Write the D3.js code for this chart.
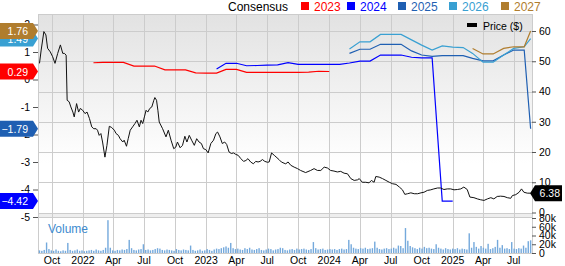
<!DOCTYPE html>
<html>
<head>
<meta charset="utf-8">
<script src="https://cdn.jsdelivr.net/npm/d3@7"></script>
<style>
  body { margin: 0; background: #fff; }
  svg text { font-family: "Liberation Sans", Arial, sans-serif; }
</style>
</head>
<body>
<div id="container"></div>
<script>

// consensus EPS estimates by fiscal year, [month, eps]
var eps2023 = [
  ["2022-02-01",0.61],["2022-03-01",0.62],["2022-04-01",0.62],["2022-05-01",0.62],["2022-06-01",0.49],
  ["2022-07-01",0.49],["2022-08-01",0.49],["2022-09-01",0.35],["2022-10-01",0.35],["2022-11-01",0.35],
  ["2022-12-01",0.24],["2023-01-01",0.23],["2023-02-01",0.23],["2023-03-01",0.37],["2023-04-01",0.37],
  ["2023-05-01",0.26],["2023-06-01",0.26],["2023-07-01",0.26],["2023-08-01",0.26],["2023-09-01",0.26],
  ["2023-10-01",0.26],["2023-11-01",0.27],["2023-12-01",0.30],["2024-01-01",0.29]
];
var eps2024 = [
  ["2023-02-01",0.38],["2023-03-01",0.59],["2023-04-01",0.59],["2023-05-01",0.50],["2023-06-01",0.51],
  ["2023-07-01",0.52],["2023-08-01",0.53],["2023-09-01",0.61],["2023-10-01",0.55],["2023-11-01",0.55],
  ["2023-12-01",0.55],["2024-01-01",0.55],["2024-02-01",0.55],["2024-03-01",0.60],["2024-04-01",0.67],
  ["2024-05-01",0.67],["2024-06-01",0.89],["2024-07-01",0.89],["2024-08-01",0.89],["2024-09-01",0.81],
  ["2024-10-01",0.79],["2024-11-01",0.79],["2024-12-01",-4.42],["2025-01-01",-4.42]
];
var eps2025 = [
  ["2024-03-01",0.95],["2024-04-01",1.10],["2024-05-01",1.10],["2024-06-01",1.28],["2024-07-01",1.28],
  ["2024-08-01",1.28],["2024-09-01",1.04],["2024-10-01",0.89],["2024-11-01",0.84],["2024-12-01",0.87],
  ["2025-01-01",0.87],["2025-02-01",0.87],["2025-03-01",0.77],["2025-04-01",0.68],["2025-05-01",0.68],
  ["2025-06-01",0.89],["2025-07-01",1.07],["2025-08-01",1.07],["2025-08-20",-1.79]
];
var eps2026 = [
  ["2024-03-01",1.11],["2024-04-01",1.37],["2024-05-01",1.37],["2024-06-01",1.64],["2024-07-01",1.64],
  ["2024-08-01",1.64],["2024-09-01",1.44],["2024-10-01",1.25],["2024-11-01",1.07],["2024-12-01",1.22],
  ["2025-01-01",1.18],["2025-02-01",1.16],["2025-03-01",0.95],["2025-04-01",0.63],["2025-05-01",0.63],
  ["2025-06-01",0.89],["2025-07-01",1.13],["2025-08-01",1.19],["2025-08-20",1.49]
];
var eps2027 = [
  ["2025-03-01",1.13],["2025-04-01",0.93],["2025-05-01",0.93],["2025-06-01",1.13],["2025-07-01",1.19],
  ["2025-08-01",1.19],["2025-08-20",1.76]
];

var years = ["2023","2024","2025","2026","2027"];
var yearColors = ["#ff0000","#0000ff","#1f5fb2","#39a0d2","#b07d2e"];

// share price ($)
var price = [
  ["2021-08-25",49.3],["2021-08-30",53.7],["2021-09-07",59.8],["2021-09-13",58.7],["2021-09-18",54.3],
  ["2021-09-26",53.1],["2021-10-03",51.5],["2021-10-10",49.3],["2021-10-18",52.6],["2021-10-26",55.4],
  ["2021-11-02",52.6],["2021-11-07",52.6],["2021-11-12",52.0],["2021-11-15",37.1],["2021-11-21",36.6],
  ["2021-11-26",34.9],["2021-12-02",33.2],["2021-12-06",31.6],["2021-12-13",36.0],["2021-12-19",33.2],
  ["2021-12-24",34.4],["2021-12-31",33.8],["2022-01-07",32.7],["2022-01-13",33.2],["2022-01-20",31.1],
  ["2022-01-27",28.3],["2022-02-02",27.7],["2022-02-09",27.7],["2022-02-13",27.2],["2022-02-18",25.5],
  ["2022-02-23",26.1],["2022-02-28",23.3],["2022-03-07",18.3],["2022-03-13",22.2],["2022-03-20",28.5],
  ["2022-03-27",28.1],["2022-04-04",27.2],["2022-04-09",26.1],["2022-04-16",25.5],["2022-04-21",24.4],
  ["2022-04-29",23.3],["2022-05-03",23.9],["2022-05-10",21.9],["2022-05-15",24.4],["2022-05-21",27.2],
  ["2022-05-28",28.3],["2022-06-04",29.4],["2022-06-10",30.5],["2022-06-17",28.3],["2022-06-22",30.5],
  ["2022-06-27",29.4],["2022-07-02",31.6],["2022-07-07",33.8],["2022-07-12",33.2],["2022-07-18",34.4],
  ["2022-07-24",34.9],["2022-07-30",37.1],["2022-08-02",38.0],["2022-08-07",37.1],["2022-08-11",33.8],
  ["2022-08-15",29.9],["2022-08-25",27.7],["2022-09-04",25.0],["2022-09-11",27.2],["2022-09-19",23.9],
  ["2022-09-27",21.1],["2022-10-03",21.6],["2022-10-08",23.3],["2022-10-16",21.4],["2022-10-23",22.2],
  ["2022-10-30",25.2],["2022-11-05",23.3],["2022-11-12",25.5],["2022-11-19",23.9],["2022-11-27",22.2],
  ["2022-12-04",24.4],["2022-12-11",23.3],["2022-12-18",22.8],["2022-12-24",21.1],["2022-12-31",20.8],
  ["2023-01-07",19.7],["2023-01-15",22.8],["2023-01-23",23.9],["2023-01-30",26.1],["2023-02-04",26.6],
  ["2023-02-11",25.0],["2023-02-18",22.8],["2023-02-25",23.3],["2023-03-03",22.5],["2023-03-10",20.0],
  ["2023-03-17",19.5],["2023-03-23",19.7],["2023-03-30",19.2],["2023-04-06",18.9],["2023-04-14",17.8],
  ["2023-04-22",16.9],["2023-04-29",17.2],["2023-05-05",17.8],["2023-05-13",16.7],["2023-05-21",16.1],
  ["2023-05-28",16.9],["2023-06-04",16.7],["2023-06-10",16.9],["2023-06-17",17.5],["2023-06-24",16.9],
  ["2023-07-02",16.6],["2023-07-07",16.7],["2023-07-14",19.7],["2023-07-22",18.9],["2023-07-30",18.1],
  ["2023-08-05",17.5],["2023-08-12",16.7],["2023-08-20",16.3],["2023-08-25",16.1],["2023-09-01",16.7],
  ["2023-09-09",15.6],["2023-09-19",15.0],["2023-09-29",14.5],["2023-10-08",13.9],["2023-10-23",13.2],
  ["2023-11-07",13.9],["2023-11-17",14.5],["2023-11-27",13.9],["2023-12-07",13.9],["2023-12-17",15.0],
  ["2023-12-27",14.7],["2024-01-05",13.9],["2024-01-15",13.7],["2024-01-25",13.4],["2024-02-04",13.6],
  ["2024-02-14",13.0],["2024-02-24",12.8],["2024-03-05",11.2],["2024-03-15",10.6],["2024-03-25",10.8],
  ["2024-03-30",11.2],["2024-04-08",10.0],["2024-04-18",10.0],["2024-04-28",9.8],["2024-05-05",10.6],
  ["2024-05-13",10.0],["2024-05-18",11.9],["2024-05-28",11.7],["2024-06-07",11.2],["2024-06-17",10.6],
  ["2024-06-27",10.0],["2024-07-07",9.5],["2024-07-17",9.3],["2024-07-27",8.4],["2024-08-05",7.5],
  ["2024-08-12",6.0],["2024-08-20",6.2],["2024-08-30",6.5],["2024-09-09",6.2],["2024-09-19",6.2],
  ["2024-09-29",6.5],["2024-10-08",6.7],["2024-10-18",7.3],["2024-10-28",7.5],["2024-11-06",7.8],
  ["2024-11-17",8.1],["2024-11-26",8.1],["2024-12-06",7.6],["2024-12-16",7.8],["2024-12-26",7.8],
  ["2025-01-05",7.5],["2025-01-15",7.6],["2025-01-25",7.8],["2025-02-03",8.4],["2025-02-13",7.6],
  ["2025-02-21",5.1],["2025-03-05",4.9],["2025-03-15",4.5],["2025-03-25",4.2],["2025-04-04",4.0],
  ["2025-04-14",4.5],["2025-04-24",4.9],["2025-05-03",4.5],["2025-05-13",5.3],["2025-05-23",5.4],
  ["2025-06-02",5.3],["2025-06-12",4.9],["2025-06-22",4.7],["2025-06-27",5.6],["2025-07-07",5.9],
  ["2025-07-17",6.7],["2025-07-24",7.8],["2025-07-31",6.7],["2025-08-10",6.4],["2025-08-20",6.38]
];

// weekly volume (thousands), first week starting 2021-08-25
var volumeStart = "2021-08-25";
var volume = [
  6,5,7,24,9,6,5,8,5,4,
  6,5,23,7,5,6,8,5,6,4,
  5,6,7,5,8,6,5,7,12,75,
  12,6,5,7,6,8,7,9,30,11,
  7,6,8,9,20,7,8,6,7,9,
  11,10,7,6,8,7,6,5,9,7,
  6,8,7,6,17,7,5,6,8,5,
  6,9,7,5,8,10,9,11,13,15,
  12,23,11,9,10,8,7,11,9,12,
  8,7,9,11,7,6,8,10,9,6,
  8,9,12,11,7,6,8,9,7,10,
  8,9,10,8,7,9,25,11,8,9,
  10,7,8,9,8,9,7,9,10,8,
  9,30,20,12,10,9,11,10,12,9,
  10,11,26,12,9,8,10,11,9,10,
  12,10,17,16,11,57,28,16,13,11,
  9,12,10,14,11,12,10,9,20,12,
  10,8,11,9,8,10,9,11,8,10,
  9,8,45,12,25,14,10,16,12,10,
  21,9,11,14,30,12,18,10,11,9,
  25,10,9,11,10,17,12,27,29
];

var epsTicks = [2,1,0,-1,-2,-3,-4,-5];
var priceTicks = [0,10,20,30,40,50,60];
var volTicks = [0,20,40,60,80];
var monthTicks = ["2021-10-01","2022-01-01","2022-04-01","2022-07-01","2022-10-01","2023-01-01",
  "2023-04-01","2023-07-01","2023-10-01","2024-01-01","2024-04-01","2024-07-01","2024-10-01",
  "2025-01-01","2025-04-01","2025-07-01"];

var width = 565, height = 266;
var plotLeft = 38, plotRight = 532, plotTop = 14, plotBottom = 213;
var volTop = 217, volBottom = 253;
var grid = "#cccccc";

var parse = d3.timeParse("%Y-%m-%d");

var x = d3.scaleTime()
  .domain([parse("2022-01-01"), parse("2025-01-01")])
  .range([83, 452.7]);
var yPrice = d3.scaleLinear().domain([0, 60]).range([212.5, 31]);
var yEps = d3.scaleLinear().domain([-5, 1]).range([217, 52]);
var yVol = d3.scaleLinear().domain([0, 80]).range([253, 218]);

var svg = d3.select("div#container")
  .append("svg")
  .attr("width", width)
  .attr("height", height);

// background gradient
var defs = svg.append("defs");
var grad = defs.append("linearGradient").attr("id", "bg").attr("x1", 0).attr("y1", 0).attr("x2", 0).attr("y2", 1);
grad.append("stop").attr("offset", "0%").attr("stop-color", "#e2e2e2");
grad.append("stop").attr("offset", "75%").attr("stop-color", "#ffffff");
defs.append("clipPath").attr("id", "plotclip")
  .append("rect").attr("x", plotLeft).attr("y", plotTop).attr("width", plotRight - plotLeft).attr("height", plotBottom - plotTop);

svg.append("rect").attr("x", plotLeft).attr("y", plotTop).attr("width", plotRight - plotLeft).attr("height", plotBottom - plotTop)
  .attr("fill", "url(#bg)");
svg.append("rect").attr("x", plotLeft).attr("y", plotBottom).attr("width", plotRight - plotLeft).attr("height", volTop - plotBottom)
  .attr("fill", "#eeeeee");

// gridlines
svg.append("g").selectAll("line").data(priceTicks).enter().append("line")
  .attr("x1", plotLeft).attr("x2", plotRight)
  .attr("y1", function(d) { return Math.round(yPrice(d)) + 0.5; })
  .attr("y2", function(d) { return Math.round(yPrice(d)) + 0.5; })
  .attr("stroke", grid);
svg.append("g").selectAll("line").data(monthTicks).enter().append("line")
  .attr("y1", plotTop).attr("y2", volBottom)
  .attr("x1", function(d) { return Math.round(x(parse(d))) + 0.5; })
  .attr("x2", function(d) { return Math.round(x(parse(d))) + 0.5; })
  .attr("stroke", grid);

// borders
svg.append("rect").attr("x", plotLeft + 0.5).attr("y", plotTop + 0.5).attr("width", plotRight - plotLeft).attr("height", volBottom - plotTop)
  .attr("fill", "none").attr("stroke", grid);
svg.append("line").attr("x1", plotLeft).attr("x2", plotRight).attr("y1", volTop + 0.5).attr("y2", volTop + 0.5).attr("stroke", grid);

// volume
svg.append("text").attr("x", 48).attr("y", 233).style("font-size", "12px").style("fill", "#3d8bcf").text("Volume");
var v0 = parse(volumeStart);
svg.append("g").selectAll("rect").data(volume).enter().append("rect")
  .attr("x", function(d, i) { return x(d3.timeDay.offset(v0, i * 7)) - 0.7; })
  .attr("width", 1.4)
  .attr("y", function(d) { return yVol(d); })
  .attr("height", function(d) { return yVol(0) - yVol(d); })
  .attr("fill", "#74a9dc");

// consensus lines
var epsLine = d3.line()
  .x(function(d) { return x(parse(d[0])); })
  .y(function(d) { return yEps(d[1]); });
var series = [eps2023, eps2024, eps2025, eps2026, eps2027];
var plot = svg.append("g").attr("clip-path", "url(#plotclip)");
series.forEach(function(s, i) {
  plot.append("path").datum(s).attr("d", epsLine)
    .attr("fill", "none").attr("stroke", yearColors[i]).attr("stroke-width", 1.2);
});

// price line
var priceLine = d3.line()
  .x(function(d) { return x(parse(d[0])); })
  .y(function(d) { return yPrice(d[1]); });
plot.append("path").datum(price).attr("d", priceLine)
  .attr("fill", "none").attr("stroke", "#111").attr("stroke-width", 1);

// left axis (EPS)
var leftAxis = svg.append("g").attr("transform", "translate(" + plotLeft + ",0)")
  .call(d3.axisLeft(yEps).tickValues(epsTicks).tickSize(5).tickPadding(3).tickFormat(function(d) { return String(d); }));
leftAxis.select(".domain").remove();
leftAxis.selectAll("line").attr("stroke", "#555");
leftAxis.selectAll("text").style("font-size", "10.5px").style("fill", "#000");

// right axis (price)
var rightAxis = svg.append("g").attr("transform", "translate(" + plotRight + ",0)")
  .call(d3.axisRight(yPrice).tickValues(priceTicks).tickSize(4).tickPadding(3));
rightAxis.select(".domain").remove();
rightAxis.selectAll("line").attr("stroke", "#555");
rightAxis.selectAll("text").style("font-size", "10.5px").style("fill", "#000");

var volAxis = svg.append("g").attr("transform", "translate(" + plotRight + ",0)")
  .call(d3.axisRight(yVol).tickValues(volTicks).tickSize(4).tickPadding(3)
    .tickFormat(function(d) { return d === 0 ? "0" : d + "k"; }));
volAxis.select(".domain").remove();
volAxis.selectAll("line").attr("stroke", "#555");
volAxis.selectAll("text").style("font-size", "10.5px").style("fill", "#000");

// bottom labels
var fmtTick = function(d) { return d.getMonth() === 0 ? d3.timeFormat("%Y")(d) : d3.timeFormat("%b")(d); };
svg.append("g").selectAll("text").data(monthTicks).enter().append("text")
  .attr("x", function(d) { return x(parse(d)); })
  .attr("y", 264)
  .attr("text-anchor", "middle")
  .style("font-size", "10.5px")
  .text(function(d) { return fmtTick(parse(d)); });

// legend
svg.append("text").attr("x", 228).attr("y", 11).style("font-size", "12px").text("Consensus");
var legendX = [301, 347, 398, 449, 501];
years.forEach(function(yr, i) {
  svg.append("rect").attr("x", legendX[i]).attr("y", 2).attr("width", 8).attr("height", 8).attr("fill", yearColors[i]);
  svg.append("text").attr("x", legendX[i] + 13).attr("y", 11).style("font-size", "12px")
    .style("fill", yearColors[i]).text(yr);
});
svg.append("rect").attr("x", 467).attr("y", 23).attr("width", 10).attr("height", 4).attr("fill", "#000");
svg.append("text").attr("x", 483).attr("y", 29.5).style("font-size", "10.5px").text("Price ($)");

// value badges on the left
var fmt = d3.format(".2f");
var order = [2, 3, 0, 1, 4];
order.forEach(function(i) {
  var v = series[i][series[i].length - 1][1];
  var yy = yEps(v);
  svg.append("path")
    .attr("d", "M0," + (yy - 8) + "L33," + (yy - 8) + "L38," + yy + "L33," + (yy + 8) + "L0," + (yy + 8) + "Z")
    .attr("fill", yearColors[i]);
  svg.append("text").attr("x", 28).attr("y", yy + 4).attr("text-anchor", "end")
    .style("font-size", "10.5px").style("fill", "#fff").text(fmt(v));
});

// last price badge
var last = price[price.length - 1][1];
var py = yPrice(last);
svg.append("path")
  .attr("d", "M530," + py + "L535," + (py - 8) + "L562," + (py - 8) + "L562," + (py + 8) + "L535," + (py + 8) + "Z")
  .attr("fill", "#000");
svg.append("text").attr("x", 560).attr("y", py + 4).attr("text-anchor", "end")
  .style("font-size", "10.5px").style("fill", "#fff").text(fmt(last));

</script>
</body>
</html>
